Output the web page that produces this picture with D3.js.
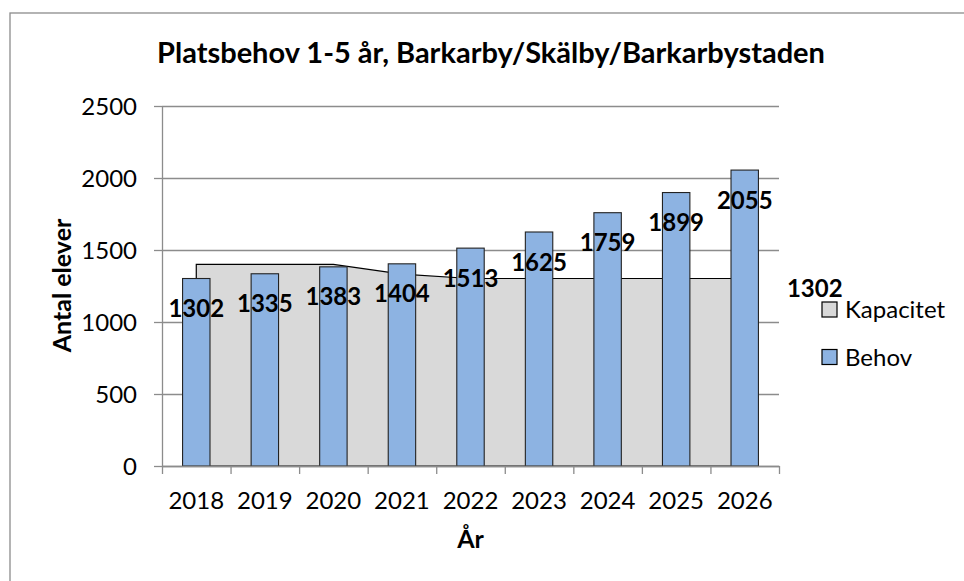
<!DOCTYPE html>
<html>
<head>
<meta charset="utf-8">
<script src="https://cdn.jsdelivr.net/npm/d3@7"></script>
<style>
  body { margin: 0; background: #fff; }
  text { font-family: Lato, "Open Sans", sans-serif; fill: #000; }
</style>
</head>
<body>
<svg></svg>
<script>
let years = ["2018", "2019", "2020", "2021", "2022", "2023", "2024", "2025", "2026"]
let behov = [1302, 1335, 1383, 1404, 1513, 1625, 1759, 1899, 2055]
let kapacitet = [1400, 1400, 1400, 1332, 1302, 1302, 1302, 1302, 1302]
let yTicks = [0, 500, 1000, 1500, 2000, 2500]
let seriesNames = ["Kapacitet", "Behov"]

let width = 964
let height = 581
let plotLeft = 162, plotRight = 779, plotTop = 106, plotBottom = 466

let svg = d3.select("svg").attr("width", width).attr("height", height)

// outer chart frame (right and bottom run off the picture)
svg.append("rect")
   .attr("x", 10).attr("y", 13)
   .attr("width", 1000).attr("height", 640)
   .attr("fill", "none").attr("stroke", "#8c8c8c").attr("stroke-width", 1.3)

let xScale = d3.scaleBand().domain(years).range([plotLeft, plotRight])
               .paddingInner(0.6).paddingOuter(0.3)
let xCenter = d3.scalePoint().domain(years).range([plotLeft, plotRight]).padding(0.5)
let xTicks = d3.scaleLinear().domain([0, years.length]).range([plotLeft, plotRight])
let yScale = d3.scaleLinear().domain([0, 2500]).range([plotBottom, plotTop])

// gridlines
svg.append("g")
   .attr("transform", "translate(" + plotLeft + ",0)")
   .call(d3.axisLeft(yScale).tickValues(yTicks).tickSize(-(plotRight - plotLeft)).tickFormat(""))
   .call(g => g.select(".domain").remove())
   .selectAll("line").attr("stroke", "#8c8c8c").attr("stroke-width", 1.3)

// Kapacitet area
let area = d3.area()
             .x((d, i) => xCenter(years[i]))
             .y0(yScale(0))
             .y1(d => yScale(d))
svg.append("path")
   .datum(kapacitet)
   .attr("d", area)
   .attr("fill", "#d9d9d9")
   .attr("stroke", "#000")
   .attr("stroke-width", 1.2)

// Behov bars
svg.selectAll(".bar")
   .data(behov)
   .enter()
   .append("rect")
   .attr("class", "bar")
   .attr("x", (d, i) => xScale(years[i]))
   .attr("width", xScale.bandwidth())
   .attr("y", d => yScale(d))
   .attr("height", d => yScale(0) - yScale(d))
   .attr("fill", "#8db3e2")
   .attr("stroke", "#222")
   .attr("stroke-width", 1.1)

// y axis
let yAxis = svg.append("g")
   .attr("transform", "translate(" + plotLeft + ",0)")
   .call(d3.axisLeft(yScale).tickValues(yTicks).tickFormat(d3.format("d"))
           .tickSize(8).tickPadding(25).tickSizeOuter(0))
yAxis.selectAll("line, path").attr("stroke", "#8c8c8c").attr("stroke-width", 1.3)
yAxis.selectAll("text").style("font-size", "24px").attr("fill", "#000")
     .attr("x", -25).attr("dy", "0.36em")

// x axis (ticks between categories)
let xAxis = svg.append("g")
   .attr("transform", "translate(0," + plotBottom + ")")
   .call(d3.axisBottom(xTicks).ticks(years.length).tickSize(8).tickFormat("").tickSizeOuter(0))
xAxis.selectAll("line, path").attr("stroke", "#8c8c8c").attr("stroke-width", 1.3)

svg.append("g").selectAll("text")
   .data(years)
   .enter()
   .append("text")
   .attr("x", d => xCenter(d))
   .attr("y", 500.5)
   .attr("dy", "0.36em")
   .attr("text-anchor", "middle")
   .style("font-size", "24px")
   .text(d => d)

// data labels
svg.append("g").selectAll("text")
   .data(behov)
   .enter()
   .append("text")
   .attr("x", (d, i) => xCenter(years[i]))
   .attr("y", d => yScale(d) + 30)
   .attr("dy", "0.36em")
   .attr("text-anchor", "middle")
   .style("font-size", "24px")
   .style("font-weight", "bold")
   .text(d => d)

let lastK = kapacitet[kapacitet.length - 1]
svg.append("text")
   .attr("x", xCenter(years[years.length - 1]) + 70)
   .attr("y", yScale(lastK) + 10)
   .attr("dy", "0.36em")
   .attr("text-anchor", "middle")
   .style("font-size", "24px")
   .style("font-weight", "bold")
   .text(lastK)

// titles
svg.append("text")
   .attr("x", 491).attr("y", 63)
   .attr("text-anchor", "middle")
   .style("font-size", "29px").style("font-weight", "bold")
   .text("Platsbehov 1-5 år, Barkarby/Skälby/Barkarbystaden")

svg.append("text")
   .attr("transform", "translate(61.5,285.5) rotate(-90)")
   .attr("dy", "0.36em")
   .attr("text-anchor", "middle")
   .style("font-size", "25px").style("font-weight", "bold")
   .text("Antal elever")

svg.append("text")
   .attr("x", 470.5).attr("y", 548)
   .attr("text-anchor", "middle")
   .style("font-size", "25px").style("font-weight", "bold")
   .text("År")

// legend
let legendColors = ["#d9d9d9", "#8db3e2"]
let legend = svg.append("g").selectAll("g")
   .data(seriesNames)
   .enter()
   .append("g")
   .attr("transform", (d, i) => "translate(822," + (302 + i * 47.5) + ")")
legend.append("rect")
   .attr("width", 15).attr("height", 15)
   .attr("fill", (d, i) => legendColors[i])
   .attr("stroke", "#000").attr("stroke-width", 1.2)
legend.append("text")
   .attr("x", 23).attr("y", 7.5)
   .attr("dy", "0.36em")
   .style("font-size", "24px")
   .text(d => d)
</script>
</body>
</html>
